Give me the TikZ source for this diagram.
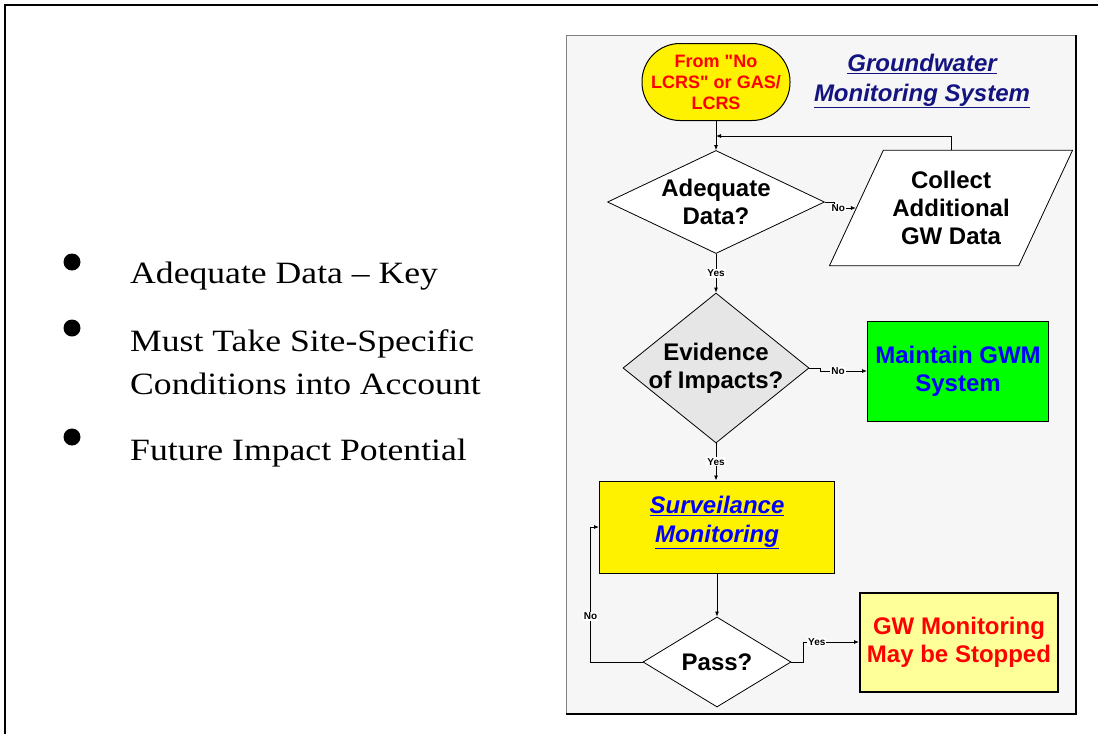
\documentclass[tikz,border=0pt]{standalone}
\usepackage{fontspec}
\setmainfont{Liberation Serif}
\newfontfamily\chartfont{Liberation Sans}
\newfontfamily\slidefont{Liberation Serif}[FakeStretch=1.15]
\usetikzlibrary{shapes.geometric,arrows.meta}
\definecolor{navytitle}{RGB}{20,20,128}
\definecolor{linkblue}{RGB}{0,0,255}
\definecolor{alertred}{RGB}{255,0,0}
\definecolor{gwmgreen}{RGB}{0,255,0}
\definecolor{paleyellow}{RGB}{255,255,153}
\definecolor{panelgray}{RGB}{246,246,246}
\definecolor{evidgray}{RGB}{230,230,230}
\tikzset{flow/.style = {-{Latex[length=5pt,width=4pt]}, line width=0.8pt}}
\tikzset{chart/.style = {font=\chartfont\bfseries\fontsize{24}{28}\selectfont, align=center}}
\tikzset{decision/.style = {chart, diamond, draw, line width=0.8pt, inner sep=0pt}}
\tikzset{procbox/.style = {chart, rectangle, draw, line width=1pt, inner sep=0pt}}
\tikzset{flowlabel/.style = {font=\chartfont\bfseries\fontsize{10}{10}\selectfont, fill=white, inner sep=1pt}}
\tikzset{bulletdot/.style = {fill, circle, inner sep = 0, minimum size = 17}}
\tikzset{bulletitem/.style = {anchor=base west, align=left, inner sep=0pt,
                              font=\slidefont\fontsize{31}{43}\selectfont}}
\begin{document}
\begin{tikzpicture}[x=1pt, y=-1pt]
      \useasboundingbox (0, 0) rectangle (1098, 734);
      \draw [line width=2pt] (5, 734) -- (5, 5) -- (1098, 5);

      % bullets
      \node [bulletdot] (dot1) at (72, 262) {};
      \node [bulletdot] (dot2) at (72, 328) {};
      \node [bulletdot] (dot3) at (72, 437) {};
      \node [bulletitem] (item1) at (130, 283) {Adequate Data – Key};
      \node [bulletitem] (item2) at (130, 394) {Must Take Site-Specific\\Conditions into Account};
      \node [bulletitem] (item3) at (130, 460) {Future Impact Potential};

      % flowchart panel
      \draw [fill=panelgray, draw=gray, line width=1pt] (566, 35) rectangle (1076, 714);
      \draw [line width=2.5pt] (1076, 35) -- (1076, 714) -- (566, 714);

      \node [chart, rectangle, draw, line width=1pt, fill=yellow, rounded corners=38pt,
             minimum width=148, minimum height=77, inner sep=0pt, text=alertred,
             font=\chartfont\bfseries\fontsize{18}{21}\selectfont] (start) at (716, 82)
            {From "No\\LCRS" or GAS/\\LCRS};
      \node [chart, text=navytitle, font=\chartfont\bfseries\itshape\fontsize{24}{30}\selectfont]
            (title) at (922, 81) {\underline{Groundwater}\\\underline{Monitoring System}};

      \node [decision, fill=white, aspect=2.1, inner xsep=-3pt,
             minimum width=217, minimum height=103] (adq) at (716, 202) {Adequate\\Data?};
      \node [chart, trapezium, trapezium left angle=65, trapezium right angle=115,
             draw, line width=0.8pt, fill=white, inner xsep=9pt, inner ysep=21pt]
            (collect) at (951, 208) {Collect\\Additional\\GW Data};
      \node [decision, fill=evidgray, aspect=1.24, inner xsep=-8pt,
             minimum width=186, minimum height=150] (evid) at (716, 368) {Evidence\\of Impacts?};
      \node [procbox, fill=gwmgreen, text=linkblue, minimum width=181, minimum height=100]
            (gwm) at (958, 371) {Maintain GWM\\System};
      \node [procbox, fill=yellow, text=linkblue, minimum width=235, minimum height=92,
             text depth=16pt, font=\chartfont\bfseries\itshape\fontsize{24}{29}\selectfont]
            (surv) at (717, 527) {\underline{Surveilance}\\\underline{Monitoring}};
      \node [decision, fill=white, minimum width=148, minimum height=90] (pass) at (717, 662) {Pass?};
      \node [procbox, fill=paleyellow, text=alertred, line width=2pt,
             minimum width=198, minimum height=99] (stop) at (959, 642) {GW Monitoring\\May be Stopped};

      \coordinate (merge) at (716, 136);

      \draw [flow] (start.south) -- (adq.north);
      \draw [flow] (collect.north) |- (merge);
      \draw [flow] (adq.east) -- ++(9, 0) |- (collect.west) node [flowlabel, pos=0.6] {No};
      \draw [flow] (adq.south) -- (evid.north) node [flowlabel, midway] {Yes};
      \draw [flow] (evid.east) -- ++(11, 0) |- (gwm.west) node [flowlabel, pos=0.69] {No};
      \draw [flow] (evid.south) -- (evid.south |- surv.north) node [flowlabel, midway] {Yes};
      \draw [flow] (surv.south) -- (pass.north);
      \draw [flow] (pass.west) -- ++(-52, 0) |- (surv.west) node [flowlabel, pos=0.17] {No};
      \draw [flow] (pass.east) -- ++(12, 0) |- (stop.west) node [flowlabel, pos=0.62] {Yes};
    \end{tikzpicture}
\end{document}
